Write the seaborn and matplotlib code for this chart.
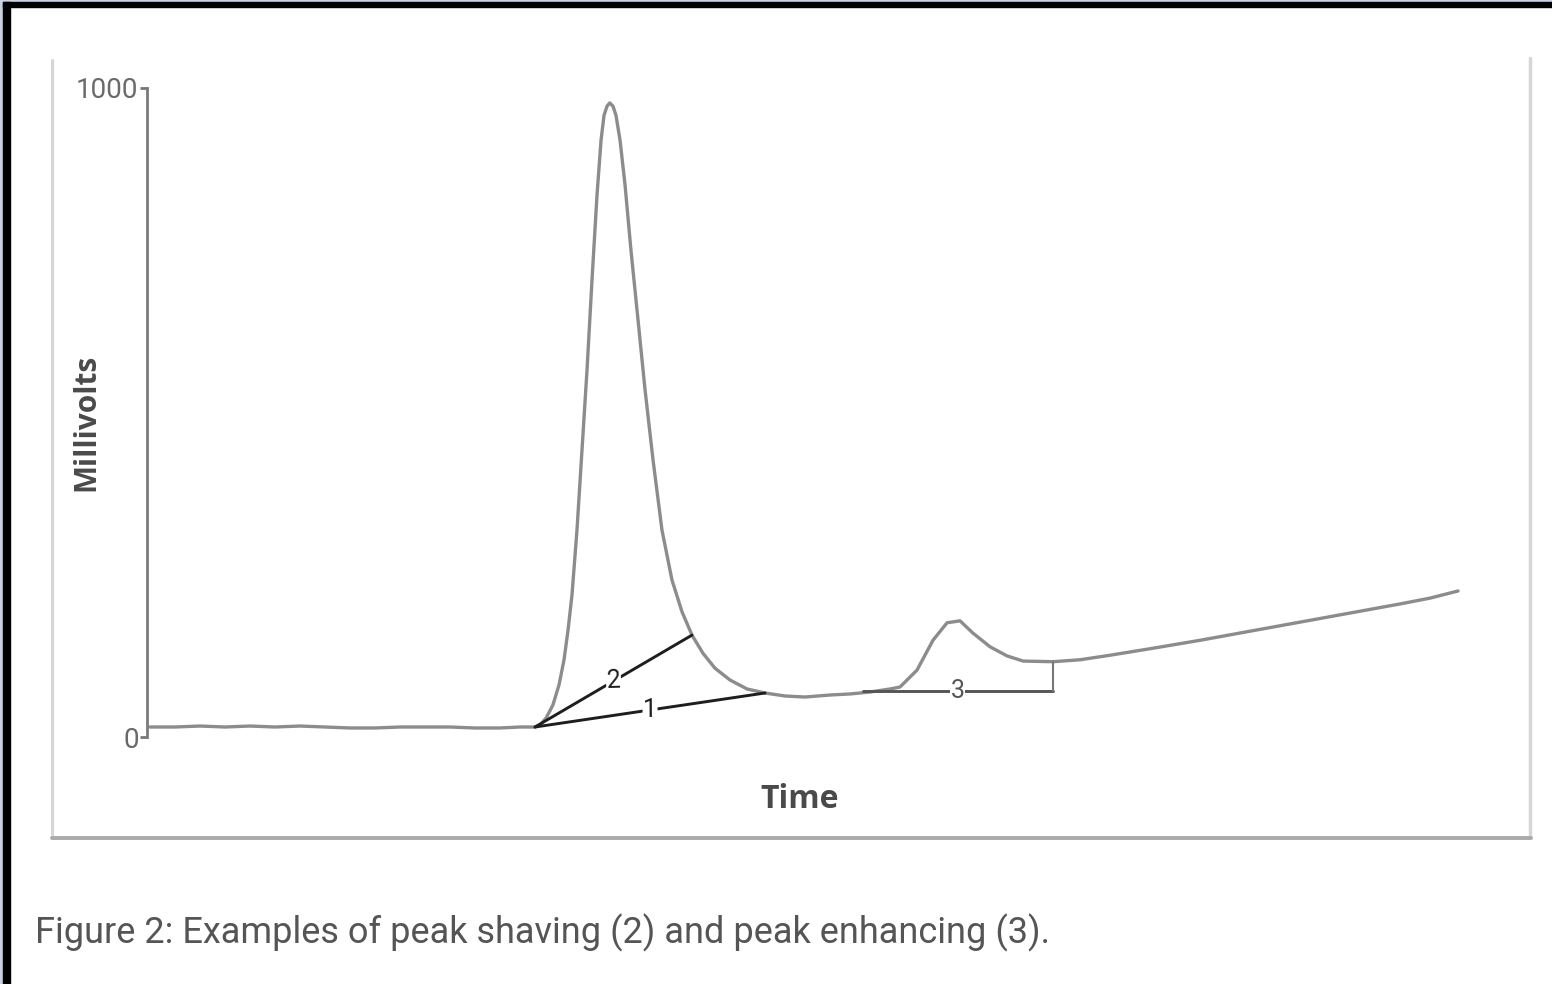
import numpy as np
import pandas as pd
import matplotlib
matplotlib.use("Agg")
import matplotlib.pyplot as plt
from matplotlib.patches import Rectangle
from matplotlib.lines import Line2D
import seaborn as sns

# ---- data (time in arbitrary units, signal in millivolts) ----
time = [0.22, 2.07, 3.92, 5.76, 7.61, 9.46, 11.31, 13.16, 15.0, 16.85, 18.70, 20.55,
        22.39, 24.24, 26.09, 27.57, 28.68, 29.05, 29.5, 30.0, 30.45, 30.82, 31.12,
        31.41, 31.78, 32.15, 32.52, 32.89, 33.26, 33.56, 33.78, 34.0, 34.2, 34.44,
        34.66, 34.96, 35.33, 35.77, 36.29, 36.81, 37.4, 38.06, 38.8, 39.54, 40.28,
        41.09, 41.98, 43.09, 44.35, 45.68, 47.15, 48.63, 50.48, 51.96, 53.44, 54.92,
        55.65, 56.91, 58.09, 59.13, 60.09, 61.05, 62.31, 63.56, 64.75, 66.96, 68.96,
        71.18, 74.13, 77.83, 81.52, 85.22, 88.91, 92.61, 94.83, 96.9]
millivolts = [15.4, 15.4, 16.9, 15.4, 16.9, 15.4, 16.9, 15.4, 13.9, 13.9, 15.4, 15.4,
              15.4, 13.9, 13.9, 15.4, 15.4, 18.5, 29.3, 49.3, 80.1, 118.6, 164.9,
              218.8, 319, 442, 565, 704, 835, 920, 958, 972, 977, 972,
              958, 920, 851, 750, 643, 535, 427, 319, 242, 193, 157,
              129, 106, 87.8, 74.0, 67.8, 63.2, 61.6, 64.7, 66.3, 69.3, 74.0,
              77, 103, 149, 176, 179, 160, 139, 125, 117, 116, 119,
              126, 136, 149, 163, 177, 191, 205, 214, 225]

ticks_y = [0, 1000]
tick_labels_y = ["0", "1000"]

# integration baselines: (t_start, mv_start, t_end, mv_end, label)
base1 = [28.68, 15.4, 45.68, 67.8, "1"]
base2 = [28.68, 15.4, 40.28, 157, "2"]
base3 = [52.9, 70.9, 66.96, 70.9, "3"]
base3_drop = [66.96, 70.9, 66.96, 116]

caption = "Figure 2: Examples of peak shaving (2) and peak enhancing (3)."

# ---- figure ----
sns.set_style("white")
plt.rcParams['font.family'] = ['Roboto', 'DejaVu Sans']

W, H = 1552, 984
fig = plt.figure(figsize=(W / 100, H / 100), dpi=100)
fig.patch.set_facecolor("white")

def fx(px):
    return px / W

def fy(py):
    return 1 - py / H

# screenshot frame (light strip + black band on top and left)
fig.add_artist(Rectangle((0, fy(2)), 1, 2 / H, transform=fig.transFigure, color="#c9d1e2", zorder=0))
fig.add_artist(Rectangle((0, 0), 3 / W, 1, transform=fig.transFigure, color="#c9d1e2", zorder=0))
fig.add_artist(Rectangle((fx(3), fy(7)), 1, 5 / H, transform=fig.transFigure, color="black", zorder=1))
fig.add_artist(Rectangle((fx(3), 0), 7 / W, fy(2), transform=fig.transFigure, color="black", zorder=1))

# panel border
fig.add_artist(Line2D([fx(52), fx(52)], [fy(60), fy(838)], transform=fig.transFigure, color="#d6d6d6", lw=2.2))
fig.add_artist(Line2D([fx(1530), fx(1530)], [fy(58), fy(838)], transform=fig.transFigure, color="#d6d6d6", lw=2.5))
fig.add_artist(Line2D([fx(52), fx(1531)], [fy(838), fy(838)], transform=fig.transFigure, color="#ababab", lw=2.8))

ax = fig.add_axes([fx(147), fy(737), (1500 - 147) / W, (737 - 88) / H])
df = pd.DataFrame({"Time": time, "Millivolts": millivolts})
sns.lineplot(data=df, x="Time", y="Millivolts", ax=ax, color="#8c8c8c", lw=2.4, sort=False)
for l in ax.lines:
    l.set_solid_joinstyle("round")

ax.set_xlim(0, 100)
ax.set_ylim(0, 1000)
ax.set_xticks([])
ax.set_yticks(ticks_y)
ax.set_yticklabels(tick_labels_y, fontsize=20, color="#6a6a6a")
ax.tick_params(axis="y", length=5, width=2, color="#777777", pad=1, left=True)
for s in ["top", "right", "bottom"]:
    ax.spines[s].set_visible(False)
ax.spines["left"].set_color("#7a7a7a")
ax.spines["left"].set_linewidth(2)
ax.set_xlabel("")
ax.set_ylabel("")
ax.patch.set_alpha(0)

for b, col in [(base1, "#1e1e1e"), (base2, "#1e1e1e"), (base3, "#555555")]:
    ax.plot([b[0], b[2]], [b[1], b[3]], color=col, lw=2.1, zorder=3)
    mx = (b[0] + b[2]) / 2
    my = (b[1] + b[3]) / 2
    ax.text(mx, my, b[4], ha="center", va="center", fontsize=18, color=col,
            rotation=0, transform_rotates_text=True,
            bbox=dict(facecolor="white", edgecolor="none", pad=0.3), zorder=4)
ax.texts[0].set_rotation(8)
ax.texts[1].set_rotation(31)
ax.plot([base3_drop[0], base3_drop[2]], [base3_drop[1], base3_drop[3]], color="#777777", lw=1.5, zorder=3)

fig.text(fx(800), fy(800), "Time", ha="center", va="center", fontsize=23,
         fontweight="bold", color="#4a4a4a", family=["Open Sans", "DejaVu Sans"])
fig.text(fx(86), fy(422), "Millivolts", ha="center", va="center", fontsize=21.5,
         fontweight="bold", color="#4a4a4a", rotation=90, family=["Open Sans", "DejaVu Sans"])

fig.text(fx(35), fy(933), caption, ha="left", va="center", fontsize=26, color="#555555")

fig.savefig("out.png", dpi=100)
